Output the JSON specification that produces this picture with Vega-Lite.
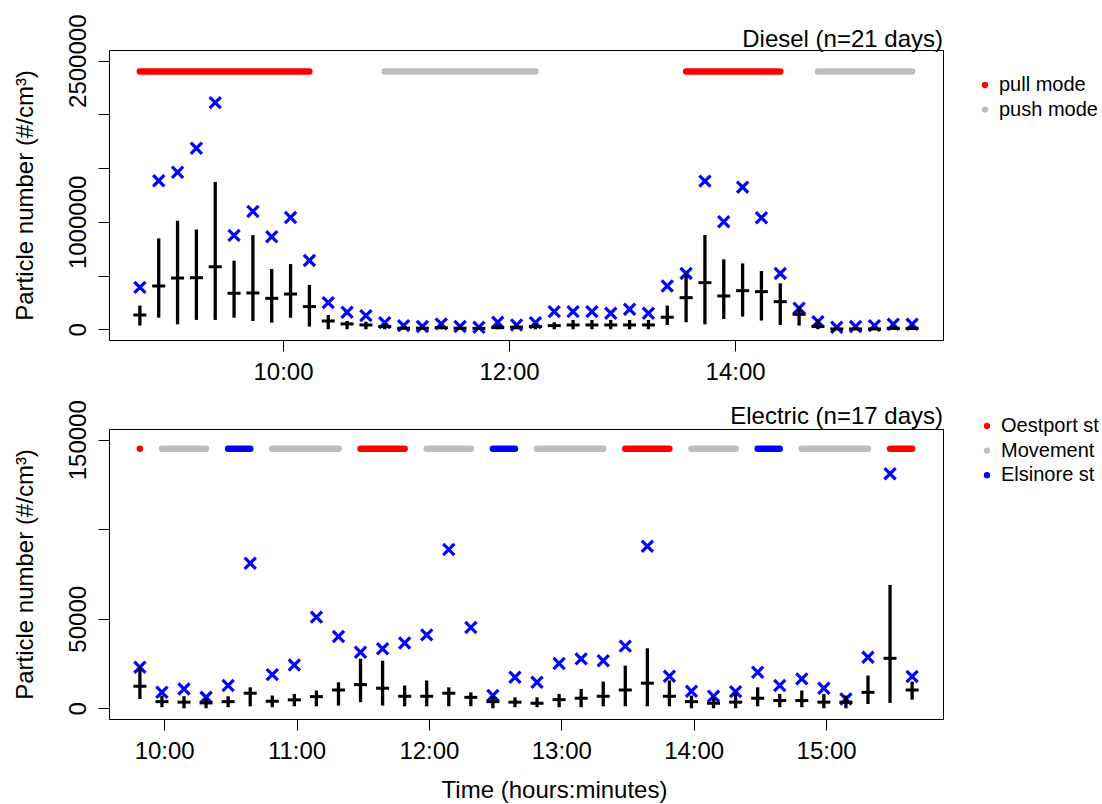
{
  "$schema": "https://vega.github.io/schema/vega-lite/v6.json",
  "background": "white",
  "padding": {"left": 12, "top": 13, "right": 0, "bottom": 0},
  "config": {
    "font": "Liberation Sans",
    "view": {"stroke": "black", "strokeWidth": 1},
    "axis": {"grid": false, "domain": false, "tickColor": "black", "tickSize": 11, "tickWidth": 1, "labelColor": "black", "labelFontSize": 24, "titleFontSize": 24, "titleFontWeight": "normal", "titleColor": "black", "labelFont": "Liberation Sans", "titleFont": "Liberation Sans", "labelOverlap": false, "labelFlush": false},
    "legend": {"orient": "none", "title": null, "symbolType": "circle", "symbolSize": 40, "symbolStrokeWidth": 0, "labelFontSize": 20, "labelFont": "Liberation Sans", "labelColor": "black", "labelOffset": 4, "rowPadding": 4.6, "padding": 0},
    "title": {"anchor": "end", "frame": "group", "fontSize": 24, "fontWeight": "normal", "color": "black", "font": "Liberation Sans", "baseline": "alphabetic"}
  },
  "datasets": {
    "diesel": [
      {"time": "2020-01-01T08:44:00Z", "median": 133000, "lower": 34000, "upper": 220000, "max": 390000},
      {"time": "2020-01-01T08:54:00Z", "median": 403000, "lower": 108000, "upper": 846000, "max": 1382000},
      {"time": "2020-01-01T09:04:00Z", "median": 477000, "lower": 46000, "upper": 1010000, "max": 1462000},
      {"time": "2020-01-01T09:14:00Z", "median": 480000, "lower": 87000, "upper": 929000, "max": 1685000},
      {"time": "2020-01-01T09:24:00Z", "median": 582000, "lower": 87000, "upper": 1372000, "max": 2110000},
      {"time": "2020-01-01T09:34:00Z", "median": 335000, "lower": 108000, "upper": 638000, "max": 874000},
      {"time": "2020-01-01T09:44:00Z", "median": 338000, "lower": 77000, "upper": 877000, "max": 1097000},
      {"time": "2020-01-01T09:54:00Z", "median": 288000, "lower": 62000, "upper": 561000, "max": 861000},
      {"time": "2020-01-01T10:04:00Z", "median": 328000, "lower": 108000, "upper": 607000, "max": 1041000},
      {"time": "2020-01-01T10:14:00Z", "median": 211000, "lower": 25000, "upper": 412000, "max": 641000},
      {"time": "2020-01-01T10:24:00Z", "median": 77000, "lower": 0, "upper": 133000, "max": 248000},
      {"time": "2020-01-01T10:34:00Z", "median": 50000, "lower": 0, "upper": 77000, "max": 158000},
      {"time": "2020-01-01T10:44:00Z", "median": 40000, "lower": 0, "upper": 70000, "max": 127000},
      {"time": "2020-01-01T10:54:00Z", "median": 25000, "lower": 0, "upper": 50000, "max": 62000},
      {"time": "2020-01-01T11:04:00Z", "median": 10000, "lower": 0, "upper": 30000, "max": 34000},
      {"time": "2020-01-01T11:14:00Z", "median": 10000, "lower": 0, "upper": 25000, "max": 25000},
      {"time": "2020-01-01T11:24:00Z", "median": 15000, "lower": 0, "upper": 40000, "max": 50000},
      {"time": "2020-01-01T11:34:00Z", "median": 10000, "lower": 0, "upper": 25000, "max": 25000},
      {"time": "2020-01-01T11:44:00Z", "median": 8000, "lower": 0, "upper": 20000, "max": 19000},
      {"time": "2020-01-01T11:54:00Z", "median": 15000, "lower": 0, "upper": 40000, "max": 65000},
      {"time": "2020-01-01T12:04:00Z", "median": 20000, "lower": 0, "upper": 40000, "max": 40000},
      {"time": "2020-01-01T12:14:00Z", "median": 25000, "lower": 0, "upper": 50000, "max": 62000},
      {"time": "2020-01-01T12:24:00Z", "median": 34000, "lower": 0, "upper": 65000, "max": 164000},
      {"time": "2020-01-01T12:34:00Z", "median": 40000, "lower": 0, "upper": 87000, "max": 164000},
      {"time": "2020-01-01T12:44:00Z", "median": 40000, "lower": 0, "upper": 87000, "max": 164000},
      {"time": "2020-01-01T12:54:00Z", "median": 40000, "lower": 0, "upper": 87000, "max": 149000},
      {"time": "2020-01-01T13:04:00Z", "median": 40000, "lower": 0, "upper": 87000, "max": 186000},
      {"time": "2020-01-01T13:14:00Z", "median": 40000, "lower": 0, "upper": 87000, "max": 149000},
      {"time": "2020-01-01T13:24:00Z", "median": 112000, "lower": 40000, "upper": 220000, "max": 403000},
      {"time": "2020-01-01T13:34:00Z", "median": 294000, "lower": 65000, "upper": 520000, "max": 520000},
      {"time": "2020-01-01T13:44:00Z", "median": 434000, "lower": 46000, "upper": 877000, "max": 1379000},
      {"time": "2020-01-01T13:54:00Z", "median": 310000, "lower": 96000, "upper": 651000, "max": 1001000},
      {"time": "2020-01-01T14:04:00Z", "median": 359000, "lower": 118000, "upper": 613000, "max": 1323000},
      {"time": "2020-01-01T14:14:00Z", "median": 350000, "lower": 81000, "upper": 542000, "max": 1038000},
      {"time": "2020-01-01T14:24:00Z", "median": 257000, "lower": 40000, "upper": 428000, "max": 520000},
      {"time": "2020-01-01T14:34:00Z", "median": 139000, "lower": 34000, "upper": 211000, "max": 195000},
      {"time": "2020-01-01T14:44:00Z", "median": 25000, "lower": 0, "upper": 87000, "max": 71000},
      {"time": "2020-01-01T14:54:00Z", "median": 3000, "lower": 0, "upper": 15000, "max": 19000},
      {"time": "2020-01-01T15:04:00Z", "median": 3000, "lower": 0, "upper": 15000, "max": 25000},
      {"time": "2020-01-01T15:14:00Z", "median": 3000, "lower": 0, "upper": 20000, "max": 34000},
      {"time": "2020-01-01T15:24:00Z", "median": 8000, "lower": 0, "upper": 30000, "max": 46000},
      {"time": "2020-01-01T15:34:00Z", "median": 8000, "lower": 0, "upper": 30000, "max": 46000}
    ],
    "diesel_modes": [
      {"start": "2020-01-01T08:44:00Z", "end": "2020-01-01T10:14:00Z", "mode": "pull mode"},
      {"start": "2020-01-01T10:54:00Z", "end": "2020-01-01T12:14:00Z", "mode": "push mode"},
      {"start": "2020-01-01T13:34:00Z", "end": "2020-01-01T14:24:00Z", "mode": "pull mode"},
      {"start": "2020-01-01T14:44:00Z", "end": "2020-01-01T15:34:00Z", "mode": "push mode"}
    ],
    "electric": [
      {"time": "2020-01-01T09:49:00Z", "median": 12300, "lower": 5200, "upper": 22900, "max": 22900},
      {"time": "2020-01-01T09:59:00Z", "median": 3700, "lower": 600, "upper": 7100, "max": 8900},
      {"time": "2020-01-01T10:09:00Z", "median": 3400, "lower": 0, "upper": 6700, "max": 10800},
      {"time": "2020-01-01T10:19:00Z", "median": 3000, "lower": 0, "upper": 5600, "max": 6100},
      {"time": "2020-01-01T10:29:00Z", "median": 3700, "lower": 600, "upper": 6700, "max": 12700},
      {"time": "2020-01-01T10:39:00Z", "median": 8400, "lower": 1100, "upper": 11700, "max": 81000},
      {"time": "2020-01-01T10:49:00Z", "median": 3900, "lower": 600, "upper": 7100, "max": 18800},
      {"time": "2020-01-01T10:59:00Z", "median": 4700, "lower": 1100, "upper": 8000, "max": 24200},
      {"time": "2020-01-01T11:09:00Z", "median": 6500, "lower": 1100, "upper": 9900, "max": 50900},
      {"time": "2020-01-01T11:19:00Z", "median": 10200, "lower": 1500, "upper": 14500, "max": 40100},
      {"time": "2020-01-01T11:29:00Z", "median": 13200, "lower": 3400, "upper": 27600, "max": 31300},
      {"time": "2020-01-01T11:39:00Z", "median": 11200, "lower": 1500, "upper": 26600, "max": 33200},
      {"time": "2020-01-01T11:49:00Z", "median": 6700, "lower": 1100, "upper": 12700, "max": 36500},
      {"time": "2020-01-01T11:59:00Z", "median": 6700, "lower": 1100, "upper": 15500, "max": 41000},
      {"time": "2020-01-01T12:09:00Z", "median": 8400, "lower": 1100, "upper": 11700, "max": 88700},
      {"time": "2020-01-01T12:19:00Z", "median": 6100, "lower": 1100, "upper": 8900, "max": 45100},
      {"time": "2020-01-01T12:29:00Z", "median": 3700, "lower": 0, "upper": 7100, "max": 7100},
      {"time": "2020-01-01T12:39:00Z", "median": 3400, "lower": 600, "upper": 6100, "max": 17300},
      {"time": "2020-01-01T12:49:00Z", "median": 2800, "lower": 600, "upper": 6100, "max": 14500},
      {"time": "2020-01-01T12:59:00Z", "median": 4800, "lower": 600, "upper": 8000, "max": 25000},
      {"time": "2020-01-01T13:09:00Z", "median": 5600, "lower": 600, "upper": 10800, "max": 27600},
      {"time": "2020-01-01T13:19:00Z", "median": 6700, "lower": 1100, "upper": 14900, "max": 26500},
      {"time": "2020-01-01T13:29:00Z", "median": 10200, "lower": 1100, "upper": 23800, "max": 34700},
      {"time": "2020-01-01T13:39:00Z", "median": 14000, "lower": 1100, "upper": 33500, "max": 90500},
      {"time": "2020-01-01T13:49:00Z", "median": 6700, "lower": 1100, "upper": 15500, "max": 17900},
      {"time": "2020-01-01T13:59:00Z", "median": 3700, "lower": 0, "upper": 7100, "max": 9500},
      {"time": "2020-01-01T14:09:00Z", "median": 2800, "lower": 0, "upper": 6100, "max": 6700},
      {"time": "2020-01-01T14:19:00Z", "median": 3400, "lower": 0, "upper": 8000, "max": 9300},
      {"time": "2020-01-01T14:29:00Z", "median": 5600, "lower": 1100, "upper": 11700, "max": 20100},
      {"time": "2020-01-01T14:39:00Z", "median": 4300, "lower": 600, "upper": 8000, "max": 12700},
      {"time": "2020-01-01T14:49:00Z", "median": 4300, "lower": 600, "upper": 9900, "max": 16400},
      {"time": "2020-01-01T14:59:00Z", "median": 3400, "lower": 0, "upper": 8000, "max": 11200},
      {"time": "2020-01-01T15:09:00Z", "median": 3400, "lower": 0, "upper": 7100, "max": 5200},
      {"time": "2020-01-01T15:19:00Z", "median": 8900, "lower": 2400, "upper": 18300, "max": 28500},
      {"time": "2020-01-01T15:29:00Z", "median": 27900, "lower": 3000, "upper": 68900, "max": 131000},
      {"time": "2020-01-01T15:39:00Z", "median": 10200, "lower": 4800, "upper": 14900, "max": 17700}
    ],
    "electric_modes": [
      {"start": "2020-01-01T09:49:00Z", "end": "2020-01-01T09:49:00Z", "mode": "Oestport st"},
      {"start": "2020-01-01T09:59:00Z", "end": "2020-01-01T10:19:00Z", "mode": "Movement"},
      {"start": "2020-01-01T10:29:00Z", "end": "2020-01-01T10:39:00Z", "mode": "Elsinore st"},
      {"start": "2020-01-01T10:49:00Z", "end": "2020-01-01T11:19:00Z", "mode": "Movement"},
      {"start": "2020-01-01T11:29:00Z", "end": "2020-01-01T11:49:00Z", "mode": "Oestport st"},
      {"start": "2020-01-01T11:59:00Z", "end": "2020-01-01T12:19:00Z", "mode": "Movement"},
      {"start": "2020-01-01T12:29:00Z", "end": "2020-01-01T12:39:00Z", "mode": "Elsinore st"},
      {"start": "2020-01-01T12:49:00Z", "end": "2020-01-01T13:19:00Z", "mode": "Movement"},
      {"start": "2020-01-01T13:29:00Z", "end": "2020-01-01T13:49:00Z", "mode": "Oestport st"},
      {"start": "2020-01-01T13:59:00Z", "end": "2020-01-01T14:19:00Z", "mode": "Movement"},
      {"start": "2020-01-01T14:29:00Z", "end": "2020-01-01T14:39:00Z", "mode": "Elsinore st"},
      {"start": "2020-01-01T14:49:00Z", "end": "2020-01-01T15:19:00Z", "mode": "Movement"},
      {"start": "2020-01-01T15:29:00Z", "end": "2020-01-01T15:39:00Z", "mode": "Oestport st"}
    ]
  },
  "vconcat": [
    {
      "width": 834,
      "height": 290,
      "title": {"text": "Diesel (n=21 days)", "offset": -38},
      "layer": [
        {
          "data": {"name": "diesel_modes"},
          "mark": {"type": "rule", "strokeWidth": 6.5, "strokeCap": "round"},
          "encoding": {
            "x": {"field": "start", "type": "temporal",
              "scale": {"type": "utc", "domain": [{"year": 2020, "month": 1, "date": 1, "hours": 8, "minutes": 27, "seconds": 36, "utc": true}, {"year": 2020, "month": 1, "date": 1, "hours": 15, "minutes": 50, "seconds": 24, "utc": true}]},
              "axis": {"title": null, "format": "%H:%M", "values": [{"year": 2020, "month": 1, "date": 1, "hours": 10, "utc": true}, {"year": 2020, "month": 1, "date": 1, "hours": 12, "utc": true}, {"year": 2020, "month": 1, "date": 1, "hours": 14, "utc": true}], "labelAngle": 0, "labelAlign": "center", "labelBaseline": "alphabetic", "labelPadding": 28}},
            "x2": {"field": "end"},
            "y": {"datum": 2400000, "type": "quantitative",
              "scale": {"domain": [-100000, 2600000], "nice": false, "zero": false},
              "axis": {"title": "Particle number (#/cm³)", "values": [0, 500000, 1000000, 1500000, 2000000, 2500000], "labelExpr": "datum.value == 0 || datum.value == 1000000 || datum.value == 2500000 ? format(datum.value, 'd') : ''", "labelAngle": -90, "labelAlign": "center", "labelBaseline": "alphabetic", "labelPadding": 13, "titleAngle": -90, "titleX": -77, "titleBaseline": "alphabetic", "titleAlign": "center"}},
            "color": {"field": "mode", "type": "nominal",
              "scale": {"domain": ["pull mode", "push mode"], "range": ["#FF0000", "#BEBEBE"]},
              "legend": {"legendX": 866, "legendY": 25,
                "encode": {"symbols": {"update": {"fill": {"signal": "datum.value === 'pull mode' ? '#FF0000' : '#BEBEBE'"}, "stroke": {"value": "transparent"}, "strokeWidth": {"value": 0}}}}}}
          }
        },
        {
          "data": {"name": "diesel"},
          "mark": {"type": "point", "shape": "M-1,-1L1,1M-1,1L1,-1", "filled": false, "stroke": "#0000FF", "strokeWidth": 3.2, "size": 125, "opacity": 1},
          "encoding": {
            "x": {"field": "time", "type": "temporal"},
            "y": {"field": "max", "type": "quantitative"}
          }
        },
        {
          "data": {"name": "diesel"},
          "mark": {"type": "rule", "strokeWidth": 3.3, "color": "black"},
          "encoding": {
            "x": {"field": "time", "type": "temporal"},
            "y": {"field": "lower", "type": "quantitative"},
            "y2": {"field": "upper"}
          }
        },
        {
          "data": {"name": "diesel"},
          "mark": {"type": "tick", "orient": "horizontal", "size": 13, "thickness": 3, "color": "black", "opacity": 1},
          "encoding": {
            "x": {"field": "time", "type": "temporal"},
            "y": {"field": "median", "type": "quantitative"}
          }
        }
      ]
    },
    {
      "width": 834,
      "height": 290,
      "title": {"text": "Electric (n=17 days)", "offset": -29},
      "layer": [
        {
          "data": {"name": "electric_modes"},
          "mark": {"type": "rule", "strokeWidth": 6.5, "strokeCap": "round"},
          "encoding": {
            "x": {"field": "start", "type": "temporal",
              "scale": {"type": "utc", "domain": [{"year": 2020, "month": 1, "date": 1, "hours": 9, "minutes": 35, "utc": true}, {"year": 2020, "month": 1, "date": 1, "hours": 15, "minutes": 53, "utc": true}]},
              "axis": {"title": "Time (hours:minutes)", "format": "%H:%M", "values": [{"year": 2020, "month": 1, "date": 1, "hours": 10, "utc": true}, {"year": 2020, "month": 1, "date": 1, "hours": 11, "utc": true}, {"year": 2020, "month": 1, "date": 1, "hours": 12, "utc": true}, {"year": 2020, "month": 1, "date": 1, "hours": 13, "utc": true}, {"year": 2020, "month": 1, "date": 1, "hours": 14, "utc": true}, {"year": 2020, "month": 1, "date": 1, "hours": 15, "utc": true}], "labelAngle": 0, "labelAlign": "center", "labelBaseline": "alphabetic", "labelPadding": 28, "titleX": 445, "titleY": 78, "titleBaseline": "alphabetic", "titleAlign": "center"}},
            "x2": {"field": "end"},
            "y": {"datum": 145000, "type": "quantitative",
              "scale": {"domain": [-6000, 156000], "nice": false, "zero": false},
              "axis": {"title": "Particle number (#/cm³)", "values": [0, 50000, 100000, 150000], "labelExpr": "datum.value == 100000 ? '' : format(datum.value, 'd')", "labelAngle": -90, "labelAlign": "center", "labelBaseline": "alphabetic", "labelPadding": 13, "titleAngle": -90, "titleX": -77, "titleBaseline": "alphabetic", "titleAlign": "center"}},
            "color": {"field": "mode", "type": "nominal",
              "scale": {"domain": ["Oestport st", "Movement", "Elsinore st"], "range": ["#FF0000", "#BEBEBE", "#0000FF"]},
              "legend": {"legendX": 868, "legendY": -13,
                "encode": {"symbols": {"update": {"fill": {"signal": "datum.value === 'Oestport st' ? '#FF0000' : datum.value === 'Elsinore st' ? '#0000FF' : '#BEBEBE'"}, "stroke": {"value": "transparent"}, "strokeWidth": {"value": 0}}}}}}
          }
        },
        {
          "data": {"name": "electric"},
          "mark": {"type": "point", "shape": "M-1,-1L1,1M-1,1L1,-1", "filled": false, "stroke": "#0000FF", "strokeWidth": 3.2, "size": 125, "opacity": 1},
          "encoding": {
            "x": {"field": "time", "type": "temporal"},
            "y": {"field": "max", "type": "quantitative"}
          }
        },
        {
          "data": {"name": "electric"},
          "mark": {"type": "rule", "strokeWidth": 3.3, "color": "black"},
          "encoding": {
            "x": {"field": "time", "type": "temporal"},
            "y": {"field": "lower", "type": "quantitative"},
            "y2": {"field": "upper"}
          }
        },
        {
          "data": {"name": "electric"},
          "mark": {"type": "tick", "orient": "horizontal", "size": 13, "thickness": 3, "color": "black", "opacity": 1},
          "encoding": {
            "x": {"field": "time", "type": "temporal"},
            "y": {"field": "median", "type": "quantitative"}
          }
        }
      ]
    }
  ],
  "spacing": 89,
  "bounds": "flush",
  "resolve": {"scale": {"x": "independent", "y": "independent", "color": "independent"}, "legend": {"color": "independent"}}
}
